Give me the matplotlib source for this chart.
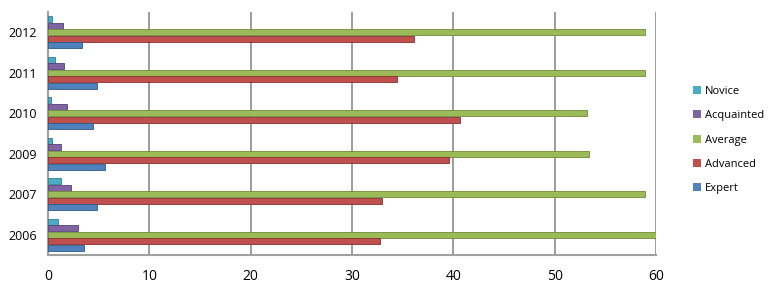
import matplotlib
matplotlib.use("Agg")
import matplotlib.pyplot as plt
import numpy as np
from matplotlib.patches import Patch

years = ["2006", "2007", "2009", "2010", "2011", "2012"]
novice = [1.0, 1.3, 0.4, 0.3, 0.7, 0.4]
acquainted = [3.0, 2.3, 1.3, 1.9, 1.6, 1.5]
average = [60.0, 58.9, 53.4, 53.2, 58.9, 58.9]
advanced = [32.8, 33.0, 39.6, 40.7, 34.4, 36.1]
expert = [3.6, 4.8, 5.6, 4.4, 4.8, 3.4]

series = [("Novice", novice, "#4BACC6"),
          ("Acquainted", acquainted, "#8064A2"),
          ("Average", average, "#9BBB59"),
          ("Advanced", advanced, "#C0504D"),
          ("Expert", expert, "#4F81BD")]

plt.rcParams['font.family'] = ['Open Sans', 'DejaVu Sans']

fig = plt.figure(figsize=(7.75, 2.89), dpi=100)
ax = fig.add_axes([48/775, 1-255/289, (656-48)/775, (255-12)/289])

y = np.arange(len(years))
w = 0.16
offsets = [2*w, w, 0, -w, -2*w]
edge = {"#4BACC6": "#2e7f94", "#8064A2": "#56407a", "#9BBB59": "#6f8a38",
        "#C0504D": "#8a2f2c", "#4F81BD": "#2f5a8c"}
for (name, vals, col), off in zip(series, offsets):
    ax.barh(y + off, vals, height=w*0.92, color=col, edgecolor=edge[col],
            linewidth=0.6, zorder=3, label=name)

ax.set_xlim(0, 60)
ax.set_ylim(-0.5, len(years) - 0.5)
ax.set_xticks(range(0, 61, 10))
ax.set_yticks(y)
ax.set_yticklabels(years, fontsize=9)
ax.tick_params(axis='x', labelsize=10, length=0, pad=10)
ax.tick_params(axis='y', length=0, pad=8)
ax.grid(axis='x', color='#8c8c8c', linewidth=1.2, zorder=0)
for s in ['top', 'right']:
    ax.spines[s].set_visible(False)
for s in ['left', 'bottom']:
    ax.spines[s].set_color('#a0a0a0')
    ax.spines[s].set_linewidth(1.5)

handles = [Patch(facecolor=c, edgecolor='none', label=n) for n, _, c in series]
fig.legend(handles=handles, loc='center left', bbox_to_anchor=(683/775, 1-140/289),
           frameon=False, fontsize=8, handlelength=0.7, handleheight=0.7,
           handletextpad=0.4, labelspacing=1.2)

fig.savefig("out.png", dpi=100)
